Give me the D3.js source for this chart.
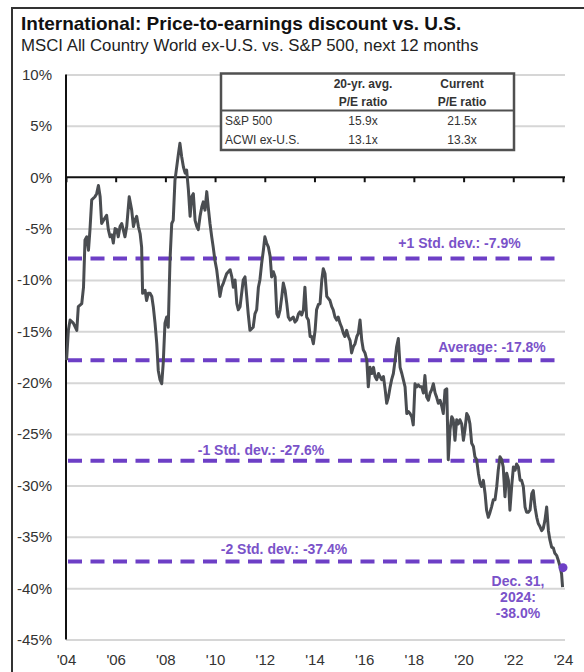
<!DOCTYPE html>
<html><head><meta charset="utf-8">
<script src="https://cdn.jsdelivr.net/npm/d3@7"></script>
<style>
body{margin:0;background:#fff}
svg{display:block;font-family:"Liberation Sans",Arial,sans-serif}
</style>
</head><body>
<svg id="chart" width="584" height="672"></svg>
<script>
// ---------- data ----------
const years = [
2004.94,2005.01,2005.08,2005.21,2005.35,2005.41,2005.55,2005.62,2005.68,2005.75,2005.82,2005.88,2005.95,
2006.08,2006.15,2006.22,2006.29,2006.35,2006.42,2006.55,2006.62,2006.69,2006.76,2006.82,2006.89,2006.96,
2007.02,2007.09,2007.16,2007.22,2007.29,2007.36,2007.46,2007.56,2007.63,2007.69,2007.76,2007.83,2007.90,2007.96,
2008.00,2008.10,2008.16,2008.23,2008.30,2008.37,2008.43,2008.50,2008.57,2008.63,2008.70,2008.77,2008.83,2008.90,2008.97,
2009.03,2009.10,2009.17,2009.23,2009.30,2009.44,2009.50,2009.57,2009.64,2009.71,2009.77,2009.84,2009.91,2009.97,
2010.04,2010.11,2010.18,2010.24,2010.31,2010.38,2010.44,2010.51,2010.58,2010.64,2010.71,2010.78,2010.84,2010.91,2010.98,
2011.11,2011.18,2011.25,2011.38,2011.52,2011.59,2011.65,2011.72,2011.79,2011.85,2011.92,
2012.05,2012.12,2012.19,2012.25,2012.32,2012.45,2012.52,2012.59,2012.66,2012.72,2012.79,2012.86,2012.92,2012.99,
2013.06,2013.13,2013.19,2013.26,2013.33,2013.40,2013.46,2013.53,2013.60,2013.66,2013.73,2013.80,2013.86,2013.93,
2014.06,2014.13,2014.20,2014.27,2014.33,2014.40,2014.47,2014.53,2014.60,2014.67,2014.74,2014.80,2014.87,2014.94,
2015.00,2015.07,2015.14,2015.21,2015.27,2015.34,2015.41,2015.54,2015.61,2015.67,2015.74,2015.81,2015.87,2015.94,
2016.01,2016.08,2016.14,2016.21,2016.28,2016.35,2016.41,2016.48,2016.55,2016.62,2016.68,2016.75,2016.82,2016.88,2016.95,
2017.02,2017.08,2017.15,2017.22,2017.29,2017.35,2017.42,2017.49,2017.55,2017.62,2017.69,2017.76,2017.82,2017.89,2017.96,
2018.02,2018.09,2018.16,2018.22,2018.29,2018.36,2018.43,2018.49,2018.56,2018.63,2018.69,2018.76,2018.83,2018.89,2018.96,
2019.03,2019.09,2019.16,2019.23,2019.30,2019.36,2019.43,2019.50,2019.57,2019.63,2019.70,2019.77,2019.83,2019.90,2019.97,
2020.04,2020.10,2020.17,2020.24,2020.30,2020.37,2020.44,2020.50,2020.57,2020.64,2020.71,2020.77,2020.84,2020.91,2020.97,
2021.04,2021.11,2021.17,2021.24,2021.31,2021.37,2021.44,2021.51,2021.58,2021.64,2021.71,2021.78,2021.84,2021.91,2021.98,
2022.04,2022.11,2022.18,2022.25,2022.31,2022.38,2022.45,2022.51,2022.58,2022.65,2022.72,2022.78,2022.85,2022.92,2022.99,
2023.05,2023.12,2023.19,2023.25,2023.32,2023.39,2023.45,2023.52,2023.59,2023.66,2023.72,2023.79,2023.86,2023.92,2023.99,
2024.06,2024.12,2024.19,2024.26,2024.33,2024.39,2024.46,2024.53,2024.59,2024.66,2024.73,2024.80,2024.86,2024.90
];
const discount = [
-17.8,-14.9,-13.9,-14.2,-14.9,-12.6,-12.3,-10.7,-6.1,-5.8,-7.1,-5.1,-2.2,
-1.9,-1.6,-0.8,-1.9,-4.5,-4.2,-3.7,-5.1,-5.8,-5.6,-6.4,-5.0,-5.1,
-5.8,-4.8,-4.5,-5.1,-5.8,-4.8,-1.9,-3.2,-4.8,-4.2,-3.8,-4.8,-5.5,-6.8,
-11.3,-11.0,-12.0,-11.3,-11.3,-11.6,-12.6,-14.2,-16.2,-18.8,-19.7,-20.1,-18.1,-14.2,-13.6,
-14.6,-8.1,-4.5,-4.2,-0.3,2.3,3.3,2.0,1.0,0.4,0.7,-1.2,-3.8,-1.9,
-1.6,-4.2,-4.8,-5.1,-3.8,-2.9,-2.4,-3.2,-1.4,-2.9,-4.5,-5.8,-6.8,-8.1,-9.0,
-11.6,-10.7,-10.3,-9.4,-9.0,-9.7,-10.7,-10.0,-12.3,-12.9,-12.6,
-10.0,-9.7,-11.6,-13.3,-14.9,-14.6,-13.3,-12.9,-10.7,-10.0,-8.4,-7.1,-5.8,-6.4,
-6.8,-7.7,-9.7,-9.2,-9.7,-13.3,-13.6,-12.9,-11.6,-10.3,-11.0,-12.3,-13.6,-13.9,
-13.6,-14.1,-13.9,-13.3,-13.1,-13.4,-12.9,-10.7,-13.6,-13.9,-15.5,-15.5,-16.2,-14.9,
-12.9,-12.4,-12.3,-10.0,-8.9,-9.4,-11.6,-12.0,-12.6,-12.9,-13.6,-13.9,-13.6,-14.2,
-14.6,-15.2,-15.5,-14.9,-15.5,-15.9,-17.1,-16.5,-16.2,-15.5,-15.2,-13.9,-15.9,-16.8,-17.1,
-17.8,-20.4,-18.5,-19.1,-18.5,-19.4,-19.7,-19.1,-19.4,-19.7,-19.4,-20.7,-22.0,-21.4,-20.4,
-19.7,-19.1,-17.8,-16.5,-15.7,-18.5,-19.1,-19.7,-20.4,-23.0,-22.8,-23.0,-23.3,-24.1,-20.1,
-20.4,-20.2,-20.4,-20.4,-21.0,-19.3,-21.4,-21.7,-21.0,-20.7,-20.1,-21.0,-21.4,-22.0,-21.7,
-22.3,-23.0,-20.7,-20.6,-27.5,-24.6,-23.3,-23.6,-25.6,-23.6,-24.0,-23.6,-24.0,-25.6,-24.6,
-23.0,-23.3,-24.0,-25.9,-26.2,-27.2,-27.5,-28.8,-29.8,-30.1,-29.5,-30.8,-32.4,-33.1,-32.6,
-32.1,-31.4,-31.4,-30.1,-28.5,-27.2,-27.5,-28.2,-31.1,-28.8,-29.5,-32.4,-30.1,-28.2,-28.5,
-27.9,-28.2,-29.5,-29.5,-30.1,-32.1,-32.6,-32.6,-32.4,-30.8,-30.5,-32.1,-33.1,-33.7,-34.0,
-34.4,-34.2,-33.4,-32.1,-34.4,-35.3,-36.0,-36.1,-36.6,-36.8,-37.3,-37.9,-38.6,-39.9
];
const yTicks = [10,5,0,-5,-10,-15,-20,-25,-30,-35,-40,-45];
const xTickYears = [2004,2006,2008,2010,2012,2014,2016,2018,2020,2022,2024];
const bandValues = [-7.9,-17.8,-27.6,-37.4];
const bandLabels = ["+1 Std. dev.: -7.9%","Average: -17.8%","-1 Std. dev.: -27.6%","-2 Std. dev.: -37.4%"];
const tableColHeads = [["20-yr. avg.","P/E ratio"],["Current","P/E ratio"]];
const tableRowNames = ["S&P 500","ACWI ex-U.S."];
const avgPE = ["15.9x","13.1x"];
const currentPE = ["21.5x","13.3x"];
const latestValue = -38.0;
const latestLabel = ["Dec. 31,","2024:","-38.0%"];
const titleText = "International: Price-to-earnings discount vs. U.S.";
const subtitleText = "MSCI All Country World ex-U.S. vs. S&P 500, next 12 months";

// ---------- layout ----------
const svg = d3.select("#chart");
const L = 66, R = 563, gridR = 565;
const purple = "#6d3fc6", purpleText = "#7a52c9", lineCol = "#4a4d51";

function decToDate(v){ const Y = Math.floor(v); return new Date(new Date(Y,0,1).getTime() + (v-Y)*365.25*864e5); }

const x = d3.scaleTime().domain([new Date(2004,11,1), new Date(2024,11,1)]).range([L, R]);
const y = d3.scaleLinear().domain([-45,10]).range([639.6, 74.5]);

// frame
svg.append("path").attr("d","M12,672V8H584").attr("fill","none").attr("stroke","#333").attr("stroke-width",2);

// title
svg.append("text").attr("x",21).attr("y",30).attr("font-size",19).attr("font-weight","bold")
  .attr("fill","#111").text(titleText);
svg.append("text").attr("x",21).attr("y",51).attr("font-size",16.8)
  .attr("fill","#222").text(subtitleText);

// y grid + labels
const gy = svg.append("g").attr("transform",`translate(${L},0)`)
  .call(d3.axisLeft(y).tickValues(yTicks).tickSize(-(gridR-L)).tickPadding(14).tickFormat(d=>d+"%"));
gy.select(".domain").remove();
gy.selectAll(".tick line").attr("stroke","#d6d6d6").attr("stroke-width",2)
  .attr("opacity",d=>d===0?0:1);
gy.selectAll(".tick text").attr("font-size",15).attr("fill","#333").attr("font-family","inherit");

// bands (dashed)
bandValues.forEach((v,i)=>{
  svg.append("line").attr("x1",L+2).attr("x2",R-5).attr("y1",y(v)).attr("y2",y(v))
    .attr("stroke",purple).attr("stroke-width",4).attr("stroke-dasharray","14,8.5");
});

// y axis line
svg.append("line").attr("x1",L).attr("x2",L).attr("y1",y(10)).attr("y2",y(-45))
  .attr("stroke","#111").attr("stroke-width",2);

// zero line with ticks
const tickDates = xTickYears.map(yr=>new Date(yr,11,1));
const gz = svg.append("g").attr("transform",`translate(0,${y(0)})`)
  .call(d3.axisBottom(x).tickValues(tickDates).tickSize(5).tickSizeOuter(0).tickFormat(""));
gz.select(".domain").attr("stroke","#111").attr("stroke-width",2).attr("d",`M${L},0H${gridR}`);
gz.selectAll(".tick line").attr("stroke","#111").attr("stroke-width",2);

// x labels at bottom
const gx = svg.append("g").attr("transform","translate(0,645)")
  .call(d3.axisBottom(x).tickValues(tickDates).tickSize(0).tickPadding(9).tickFormat(d=>"'"+d3.timeFormat("%y")(d)));
gx.select(".domain").remove();
gx.selectAll(".tick text").attr("font-size",15).attr("fill","#333").attr("font-family","inherit");

// line
const pts = years.map((yr,i)=>({d:decToDate(yr), v:discount[i]}));
svg.append("path").datum(pts)
  .attr("d", d3.line().x(p=>x(p.d)).y(p=>y(p.v)))
  .attr("fill","none").attr("stroke",lineCol).attr("stroke-width",3).attr("stroke-linejoin","round");

// band labels
const labelPos = [[459.5,-10],[492,-8],[261,-6],[284,-8]];
bandLabels.forEach((t,i)=>{
  svg.append("text").attr("x",labelPos[i][0]).attr("y",y(bandValues[i])+labelPos[i][1])
    .attr("text-anchor","middle").attr("font-size",14).attr("font-weight","bold")
    .attr("fill",purpleText).text(t);
});

// latest point
svg.append("circle").attr("cx",x(new Date(2024,11,1))).attr("cy",y(latestValue)).attr("r",4.5).attr("fill",purple);
latestLabel.forEach((t,i)=>{
  svg.append("text").attr("x",518).attr("y",586+i*16).attr("text-anchor","middle")
    .attr("font-size",14).attr("font-weight","bold").attr("fill",purpleText).text(t);
});

// table
const tb = svg.append("g");
tb.append("rect").attr("x",221).attr("y",73.5).attr("width",293).attr("height",76.5)
  .attr("fill","#fff").attr("stroke","#505050").attr("stroke-width",2.5);
tb.append("line").attr("x1",221).attr("x2",514).attr("y1",110.5).attr("y2",110.5)
  .attr("stroke","#505050").attr("stroke-width",2);
const colX = [363,462];
tableColHeads.forEach((h,c)=>{
  h.forEach((t,k)=>{
    tb.append("text").attr("x",colX[c]).attr("y",88+k*17.5).attr("text-anchor","middle")
      .attr("font-size",12).attr("font-weight","bold").attr("fill","#333").text(t);
  });
});
tableRowNames.forEach((t,r)=>{
  const by = 124.5 + r*19.5;
  tb.append("text").attr("x",225).attr("y",by).attr("font-size",12).attr("fill","#333").text(t);
  tb.append("text").attr("x",colX[0]).attr("y",by).attr("text-anchor","middle").attr("font-size",12).attr("fill","#333").text(avgPE[r]);
  tb.append("text").attr("x",colX[1]).attr("y",by).attr("text-anchor","middle").attr("font-size",12).attr("fill","#333").text(currentPE[r]);
});
</script>
</body></html>
